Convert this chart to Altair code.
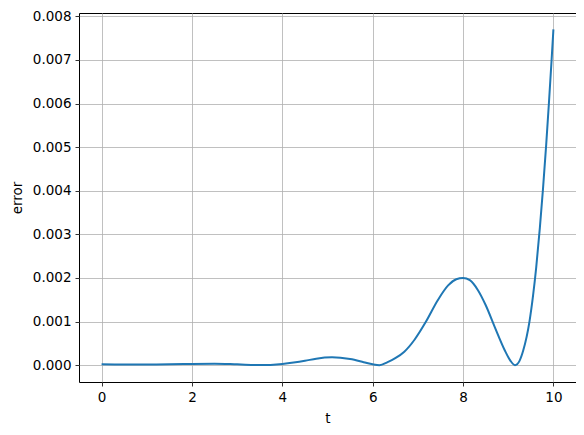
import altair as alt
import pandas as pd

t_values = [0.0, 0.5, 1.0, 1.5, 2.0, 2.5, 3.0, 3.5, 4.0, 4.25, 4.5, 4.75, 5.1,
            5.5, 5.8, 6.0, 6.15, 6.33, 6.5, 6.7, 6.93, 7.18, 7.44, 7.67, 7.85,
            8.0, 8.15, 8.33, 8.5, 8.7, 8.92, 9.05, 9.15, 9.25, 9.33, 9.47, 9.55,
            9.62, 9.7, 9.77, 9.84, 9.9, 9.96, 10.0]
error_values = [0.00002, 0.000015, 0.000015, 0.00002, 0.00003, 0.000035, 0.00002,
                0.000003, 0.00003, 0.00006, 0.0001, 0.00015, 0.00018, 0.00014,
                0.00007, 0.00002, 0.0, 0.00007, 0.00016, 0.00031, 0.00059, 0.001,
                0.00149, 0.00183, 0.00197, 0.002, 0.00195, 0.00172, 0.00138,
                0.00088, 0.00035, 0.0001, 0.0, 0.0001, 0.00033, 0.001, 0.0016,
                0.00225, 0.00315, 0.00405, 0.00505, 0.006, 0.007, 0.0077]
x_ticks = [0, 2, 4, 6, 8, 10]
y_ticks = [0.0, 0.001, 0.002, 0.003, 0.004, 0.005, 0.006, 0.007, 0.008]

df = pd.DataFrame({"t": t_values, "error": error_values})

font = "DejaVu Sans"

chart = alt.Chart(df).mark_line(
    color="#1f77b4", strokeWidth=2, interpolate="monotone", clip=True
).encode(
    x=alt.X("t:Q", title="t",
            scale=alt.Scale(domain=[-0.5, 10.5], nice=False, zero=False),
            axis=alt.Axis(values=x_ticks, format="d", grid=True)),
    y=alt.Y("error:Q", title="error",
            scale=alt.Scale(domain=[-0.000385, 0.008075], nice=False, zero=False),
            axis=alt.Axis(values=y_ticks, format=".3f", grid=True)),
).properties(
    width=497, height=369,
    autosize=alt.AutoSizeParams(type="none"),
    padding={"left": 71, "top": 5, "right": 0, "bottom": 44},
).configure_view(
    stroke="black", strokeWidth=1
).configure_axis(
    domain=False,
    gridColor="#b0b0b0", gridWidth=0.8,
    tickColor="black", tickSize=4, tickWidth=0.8,
    labelFont=font, labelFontSize=13.5, labelColor="black",
    titleFont=font, titleFontSize=13.5, titleFontWeight="normal", titleColor="black",
    labelPadding=4,
).configure_axisX(
    titlePadding=8
).configure_axisY(
    titlePadding=8
)

chart.save("out.html", embed_options={"renderer": "svg", "actions": False})
